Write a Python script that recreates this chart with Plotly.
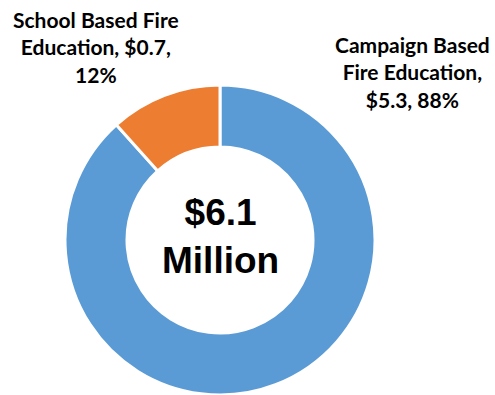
import plotly.graph_objects as go

# Fire education spending by program type ($ millions)
categories = ["Campaign Based Fire Education", "School Based Fire Education"]
amounts = [5.3, 0.7]
percent_labels = ["88%", "12%"]
total_label = "$6.1<br>Million"
colors = ["#5B9BD5", "#ED7D31"]

W, H = 495, 395

fig = go.Figure(
    go.Pie(
        labels=categories,
        values=amounts,
        hole=0.6,
        sort=False,
        direction="clockwise",
        rotation=0,
        marker=dict(colors=colors, line=dict(color="white", width=3)),
        textinfo="none",
        hoverinfo="label+value+percent",
        showlegend=False,
        domain=dict(x=[65 / W, 375 / W], y=[0, 310 / H]),
    )
)

label_font = dict(family="Lato", size=21, color="#000000")

fig.add_annotation(
    x=96 / W, y=1 - 47 / H, xref="paper", yref="paper",
    text=f"<b>School Based Fire<br>Education, ${amounts[1]},<br>{percent_labels[1]}</b>",
    showarrow=False, font=label_font, align="center",
    xanchor="center", yanchor="middle",
)
fig.add_annotation(
    x=412 / W, y=1 - 72 / H, xref="paper", yref="paper",
    text=f"<b>Campaign Based<br>Fire Education,<br>${amounts[0]}, {percent_labels[0]}</b>",
    showarrow=False, font=label_font, align="center",
    xanchor="center", yanchor="middle",
)
fig.add_annotation(
    x=220 / W, y=1 - 236 / H, xref="paper", yref="paper",
    text=f"<b>{total_label}</b>",
    showarrow=False, font=dict(family="Liberation Sans", size=37, color="#000000"),
    align="center", xanchor="center", yanchor="middle",
)

fig.update_layout(
    width=W, height=H,
    margin=dict(l=0, r=0, t=0, b=0),
    paper_bgcolor="white", plot_bgcolor="white",
)

fig.write_html("out.html")
